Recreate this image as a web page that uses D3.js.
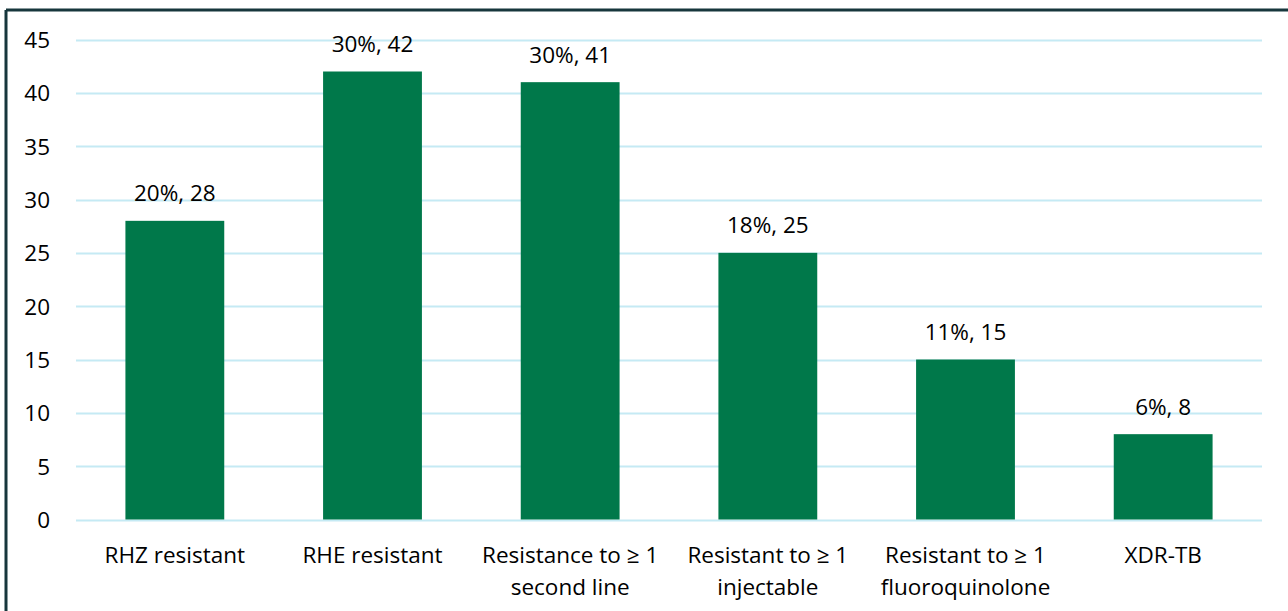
<!DOCTYPE html>
<html>
<head>
<meta charset="utf-8">
<script src="https://cdn.jsdelivr.net/npm/d3@7"></script>
<style>
  html, body { margin: 0; padding: 0; background: #fff; }
  svg { display: block; }
  text { font-family: "Open Sans", "Noto Sans", sans-serif; fill: #000; }
</style>
</head>
<body>
<svg id="chart" width="1288" height="611"></svg>
<script>
// Drug-resistance categories, counts and shares
const categories = [
  ["RHZ resistant"],
  ["RHE resistant"],
  ["Resistance to \u2265 1", "second line"],
  ["Resistant to \u2265 1", "injectable"],
  ["Resistant to \u2265 1", "fluoroquinolone"],
  ["XDR-TB"]
];
const counts = [28, 42, 41, 25, 15, 8];
const percents = ["20%", "30%", "30%", "18%", "11%", "6%"];
const yTicks = [0, 5, 10, 15, 20, 25, 30, 35, 40, 45];

const W = 1288, H = 611;
const margin = { left: 76, right: 26, top: 39.5, bottom: 91.5 };
const FONT = 22.5;

const svg = d3.select("#chart");

// Frame lines along the top and left edges
svg.append("line").attr("x1", 6).attr("x2", W).attr("y1", 10).attr("y2", 10)
  .attr("stroke", "#17363c").attr("stroke-width", 3);
svg.append("line").attr("x1", 6).attr("x2", 6).attr("y1", 10).attr("y2", H)
  .attr("stroke", "#17363c").attr("stroke-width", 3);

const x = d3.scaleBand()
  .domain(d3.range(categories.length))
  .range([margin.left, W - margin.right])
  .paddingInner(0.5)
  .paddingOuter(0.25);

const y = d3.scaleLinear()
  .domain([0, 45])
  .range([H - margin.bottom, margin.top]);

// Horizontal gridlines
svg.append("g").selectAll("line")
  .data(yTicks)
  .join("line")
  .attr("x1", margin.left).attr("x2", W - margin.right)
  .attr("y1", d => Math.round(y(d)) + 0.5).attr("y2", d => Math.round(y(d)) + 0.5)
  .attr("stroke", "#c5eaf4").attr("stroke-width", 2);

// Y axis tick labels
const yAxis = d3.axisLeft(y).tickValues(yTicks).tickSize(0).tickPadding(0);
const gy = svg.append("g").attr("transform", `translate(50,0)`).call(yAxis);
gy.select(".domain").remove();
gy.selectAll("text").attr("font-size", FONT).attr("font-family", "'Open Sans', sans-serif")
  .attr("fill", "#000").attr("dy", "0.36em");

// Bars
svg.append("g").selectAll("rect")
  .data(counts)
  .join("rect")
  .attr("x", (d, i) => x(i))
  .attr("width", x.bandwidth())
  .attr("y", d => y(d))
  .attr("height", d => y(0) - y(d))
  .attr("fill", "#00784a");

// Value labels: share and count
svg.append("g").selectAll("text")
  .data(counts)
  .join("text")
  .attr("x", (d, i) => x(i) + x.bandwidth() / 2)
  .attr("y", d => y(d) - 19.5)
  .attr("text-anchor", "middle")
  .attr("font-size", FONT)
  .text((d, i) => `${percents[i]}, ${d}`);

// Category labels (one or two lines)
const cat = svg.append("g").selectAll("text")
  .data(categories)
  .join("text")
  .attr("x", (d, i) => x(i) + x.bandwidth() / 2)
  .attr("y", 563)
  .attr("text-anchor", "middle")
  .attr("font-size", FONT);
cat.selectAll("tspan")
  .data(d => d)
  .join("tspan")
  .attr("x", function () { return this.parentNode.getAttribute("x"); })
  .attr("dy", (d, j) => j === 0 ? 0 : 32)
  .text(d => d);
</script>
</body>
</html>
